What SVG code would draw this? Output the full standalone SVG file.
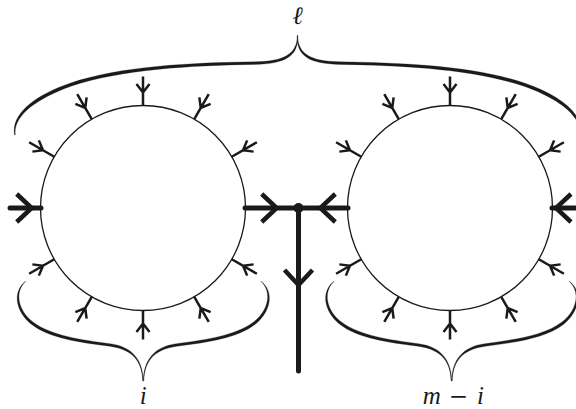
<svg xmlns="http://www.w3.org/2000/svg" xmlns:xlink="http://www.w3.org/1999/xlink" width="576" height="409" viewBox="0 0 576 409">
<style>
.node{fill:none;stroke:#1a1a1a;stroke-width:1.3}
.sa{fill:none;stroke:#1a1a1a;stroke-width:2.5;stroke-linejoin:miter}
.thick{fill:none;stroke:#1a1a1a;stroke-width:5;stroke-linecap:round}
.ta{fill:none;stroke:#1a1a1a;stroke-width:4.5;stroke-linejoin:miter}
.brace{fill:#1a1a1a;stroke:#1a1a1a;stroke-width:0.25}
.lbl{font-family:"Liberation Serif","DejaVu Serif",serif;font-style:italic;font-size:25px;fill:#1a1a1a;text-anchor:middle}
.op{font-family:"DejaVu Serif","Liberation Serif",serif;font-style:normal;font-size:23px}
</style>
<defs>
<path id="sa" class="sa" d="M0 0 V-29 M-6.5 -21.5 L0 -13 L6.5 -21.5"/>
<path id="ta" class="ta" d="M-15 -14 L0 0 L-15 14"/>
<path id="braceTop" class="brace" d="M297.5 35 C297 54 285 61.2 255 61.8 C190 62.7 120 66.2 70 83.2 C34 95.7 11 114 14.5 135 L15.3 135 C13 116 36 98.8 71 86.2 C121 69.3 190 65.4 255 64.4 C286 63.8 297.8 56 297.9 37 Z"/>
<path id="braceBot" class="brace" d="M143.3 381 C143 360 132.5 346.7 110.3 343.7 C80.5 339.7 51 335.7 33 322 C18.3 310.7 14 292 25.7 281.5 L25.2 281.5 C12.2 292 15.7 311.4 31 324 C49 338.3 79.5 342.3 109.7 346.3 C131.5 349.3 142 360 142.7 381 Z"/>
</defs>
<rect width="576" height="409" fill="#fff"/>

<g id="node-left">
<circle class="node" cx="143" cy="208" r="102.5"/>
</g>
<g id="node-right">
<circle class="node" cx="450" cy="208" r="102.5"/>
</g>
<g id="node-junction">
<circle cx="298.5" cy="208" r="5" fill="#1a1a1a"/>
</g>

<g id="connectors">
<line class="thick" x1="10" y1="208" x2="41" y2="208"/>
<line class="thick" x1="245" y1="208" x2="348" y2="208"/>
<line class="thick" x1="298.5" y1="208" x2="298.5" y2="371"/>
<line class="thick" x1="552" y1="208" x2="580" y2="208"/>
<use xlink:href="#ta" href="#ta" transform="translate(31.7 208)"/>
<use xlink:href="#ta" href="#ta" transform="translate(276.7 208)"/>
<use xlink:href="#ta" href="#ta" transform="translate(320.3 208) rotate(180)"/>
<use xlink:href="#ta" href="#ta" transform="translate(556 208) rotate(180)"/>
<use xlink:href="#ta" href="#ta" transform="translate(298.5 285) rotate(90)"/>
<g transform="translate(143 208)">
<use href="#sa" transform="rotate(0) translate(0 -102.5)"/>
<use href="#sa" transform="rotate(30) translate(0 -102.5)"/>
<use href="#sa" transform="rotate(60) translate(0 -102.5)"/>
<use href="#sa" transform="rotate(120) translate(0 -102.5)"/>
<use href="#sa" transform="rotate(150) translate(0 -102.5)"/>
<use href="#sa" transform="rotate(180) translate(0 -102.5)"/>
<use href="#sa" transform="rotate(-150) translate(0 -102.5)"/>
<use href="#sa" transform="rotate(-120) translate(0 -102.5)"/>
<use href="#sa" transform="rotate(-60) translate(0 -102.5)"/>
<use href="#sa" transform="rotate(-30) translate(0 -102.5)"/>
</g>
<g transform="translate(450 208)">
<use href="#sa" transform="rotate(0) translate(0 -102.5)"/>
<use href="#sa" transform="rotate(30) translate(0 -102.5)"/>
<use href="#sa" transform="rotate(60) translate(0 -102.5)"/>
<use href="#sa" transform="rotate(120) translate(0 -102.5)"/>
<use href="#sa" transform="rotate(150) translate(0 -102.5)"/>
<use href="#sa" transform="rotate(180) translate(0 -102.5)"/>
<use href="#sa" transform="rotate(-150) translate(0 -102.5)"/>
<use href="#sa" transform="rotate(-120) translate(0 -102.5)"/>
<use href="#sa" transform="rotate(-60) translate(0 -102.5)"/>
<use href="#sa" transform="rotate(-30) translate(0 -102.5)"/>
</g>
</g>

<g id="braces">
<use href="#braceTop"/>
<use href="#braceTop" transform="translate(595 0) scale(-1 1)"/>
<use href="#braceBot"/>
<use href="#braceBot" transform="translate(286.6 0) scale(-1 1)"/>
<use href="#braceBot" transform="translate(308.4 0)"/>
<use href="#braceBot" transform="translate(595 0) scale(-1 1)"/>
</g>

<g id="labels">
<text class="lbl" x="297.5" y="24">ℓ</text>
<text class="lbl" x="143.3" y="403.5">i</text>
<text class="lbl" y="403.5"><tspan x="431.7">m</tspan><tspan class="op" x="458.3">−</tspan><tspan x="480.5">i</tspan></text>
</g>
</svg>
